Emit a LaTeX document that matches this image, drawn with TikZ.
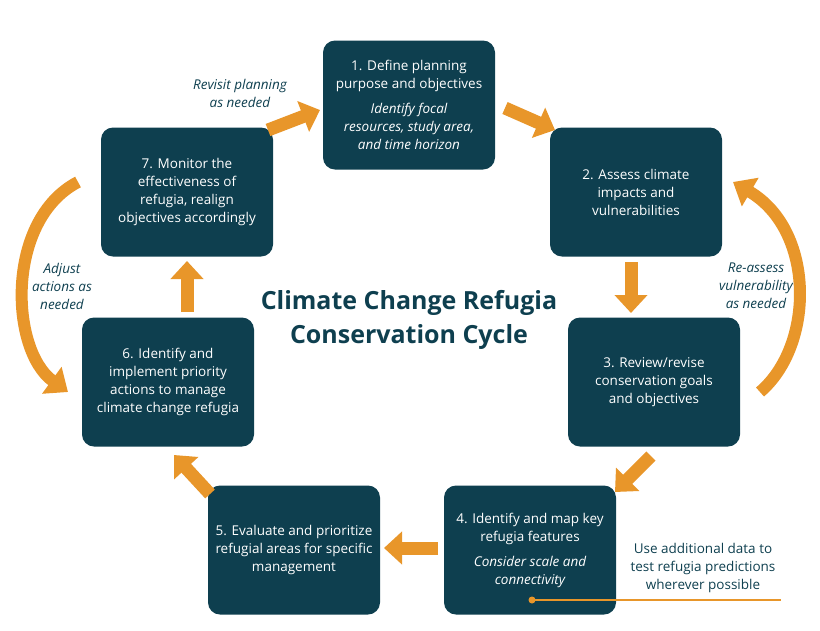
\documentclass[tikz,border=0pt]{standalone}
\usepackage{fontspec}
\setmainfont{Open Sans}
\usetikzlibrary{arrows.meta}
\definecolor{teal}{HTML}{0E3F4F}
\definecolor{org}{HTML}{E8962A}
\begin{document}
\begin{tikzpicture}[x=1pt,y=-1pt,
  box/.style={fill=teal,rounded corners=12pt,minimum width=172pt,minimum height=129pt,text=white,align=center,font=\fontsize{13.5}{18}\selectfont,inner sep=0pt},
  blk/.style={draw=org,line width=13pt,-{Triangle[length=18pt,width=32pt]}},
  crv/.style={draw=org,line width=12pt,-{Triangle[length=20pt,width=32pt]}},
  lab/.style={text=teal,align=center,font=\itshape\fontsize{13.5}{18}\selectfont}]
\useasboundingbox (0,0) rectangle (820,630);
\node[box] (b1) at (409,105) {1. Define planning\\purpose and objectives\\[7pt]\itshape Identify focal\\\itshape resources, study area,\\\itshape and time horizon};
\node[box] (b2) at (636,192) {2. Assess climate\\impacts and\\vulnerabilities};
\node[box] (b3) at (654,382) {3. Review/revise\\conservation goals\\and objectives};
\node[box] (b4) at (530,550) {4. Identify and map key\\refugia features\\[7pt]\itshape Consider scale and\\\itshape connectivity};
\node[box] (b5) at (294,550) {5. Evaluate and prioritize\\refugial areas for specific\\management};
\node[box] (b6) at (168,382) {6. Identify and\\implement priority\\actions to manage\\climate change refugia};
\node[box] (b7) at (187,192) {7. Monitor the\\effectiveness of\\refugia, realign\\objectives accordingly};
\coordinate (a71) at (268,130); \coordinate (e71) at (320,110);
\coordinate (a12) at (505,108); \coordinate (e12) at (555,130);
\coordinate (a23) at (631,262); \coordinate (e23) at (631,313);
\coordinate (a34) at (651,456); \coordinate (e34) at (615,492);
\coordinate (a45) at (438,548); \coordinate (e45) at (384,548);
\coordinate (a56) at (210,494); \coordinate (e56) at (174,455);
\coordinate (a67) at (187,312); \coordinate (e67) at (187,261);
\draw[blk] (a71) -- (e71);
\draw[blk] (a12) -- (e12);
\draw[blk] (a23) -- (e23);
\draw[blk] (a34) -- (e34);
\draw[blk] (a45) -- (e45);
\draw[blk] (a56) -- (e56);
\draw[blk] (a67) -- (e67);
\coordinate (l1) at (78,182); \coordinate (l2) at (68,392);
\draw[crv] (l1) .. controls (5,220) and (10,350) .. (l2);
\coordinate (r1) at (760,392); \coordinate (r2) at (733,182);
\draw[crv] (r1) .. controls (815,345) and (815,230) .. (r2);
\node[text=teal,font=\bfseries\fontsize{25}{34}\selectfont,align=center] (t) at (409,320) {Climate Change Refugia\\Conservation Cycle};
\node[lab] (n1) at (240,93) {Revisit planning\\as needed};
\node[lab] (n2) at (62,286) {Adjust\\actions as\\needed};
\node[lab] (n3) at (756,286) {Re-assess\\vulnerability\\as needed};
\node[text=teal,align=center,font=\fontsize{13.5}{18}\selectfont] (n4) at (703,568) {Use additional data to\\test refugia predictions\\wherever possible};
\coordinate (d1) at (532,600); \coordinate (d2) at (781,600);
\draw[org,line width=1.5pt] (d1) -- (d2);
\fill[org] (d1) circle (3.5pt);
\end{tikzpicture}
\end{document}
